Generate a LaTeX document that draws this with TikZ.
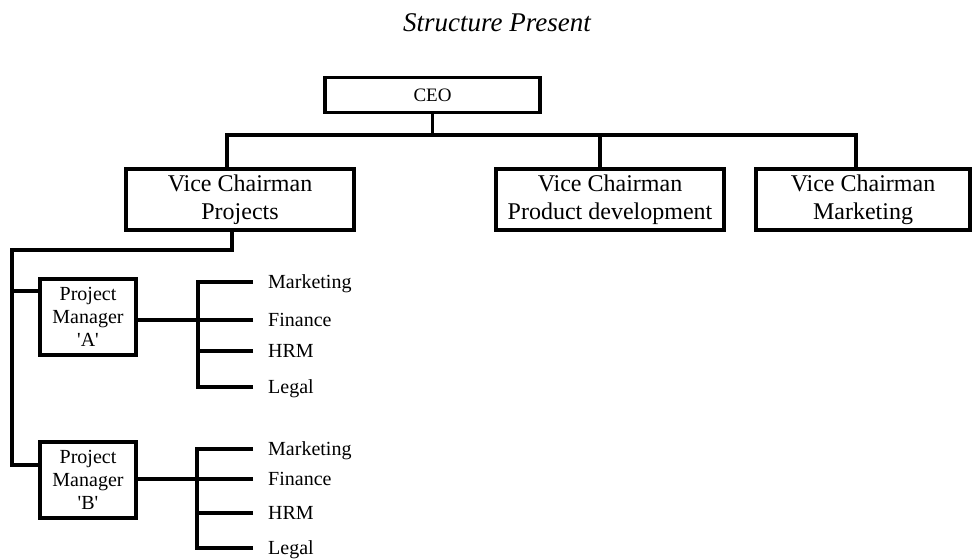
\documentclass[tikz,border=0pt]{standalone}
\usepackage{fontspec}
\setmainfont{Liberation Serif}
\begin{document}
\begin{tikzpicture}[x=1pt,y=-1pt,
  conn/.style={line width=3.8pt},
  vcbox/.style={draw,line width=3.8pt,minimum width=228pt,minimum height=61pt,
    inner sep=0pt,align=center,font=\fontsize{24}{28}\selectfont},
  pmbox/.style={draw,line width=3.8pt,minimum width=96pt,minimum height=76pt,
    inner sep=0pt,align=center,font=\fontsize{20}{23}\selectfont},
  dept/.style={anchor=west,inner xsep=15pt,inner ysep=0pt,
    text height=13.2pt,text depth=0pt,font=\fontsize{20}{23}\selectfont}]
\useasboundingbox (0,0) rectangle (973,559);

% title
\node[anchor=base,font=\fontsize{27}{32}\selectfont\itshape] (title) at (497,32) {Structure Present};

% top level
\node[draw,line width=3.8pt,minimum width=215pt,minimum height=35pt,inner sep=0pt,
  font=\fontsize{19}{22}\selectfont] (ceo) at (432.5,95) {CEO};

\node[vcbox] (vcp)  at (240,199.5) {Vice Chairman\\Projects};
\node[vcbox] (vcpd) at (610,199.5) {Vice Chairman\\Product development};
\node[vcbox,minimum width=214pt] (vcm) at (863,199.5) {Vice Chairman\\Marketing};

\coordinate (bus) at (432.5,135);
\draw[conn] (ceo.south) -- (bus);
\draw[conn] ([xshift=-13pt]vcp.north) |- (bus);
\draw[conn] ([xshift=-10pt]vcpd.north) |- (bus);
\draw[conn] ([xshift=-7pt]vcm.north) |- (bus);

% project managers
\node[pmbox] (pma) at (88,317) {Project\\Manager\\\textquotesingle A\textquotesingle};
\node[pmbox] (pmb) at (88,480) {Project\\Manager\\\textquotesingle B\textquotesingle};

\coordinate (corner) at (12,250);
\coordinate (pa) at (12,291);
\coordinate (pb) at (12,465);
\draw[conn] ([xshift=-8pt]vcp.south) |- (corner) -- (pb) -- (pb -| pmb.west);
\draw[conn] (pa) -- (pa -| pma.west);

% departments under manager A
\node[dept] (ma) at (253,282) {Marketing};
\node[dept] (fa) at (253,320) {Finance};
\node[dept] (ha) at (253,351) {HRM};
\node[dept] (la) at (253,387) {Legal};
\coordinate (ja) at (198,320);
\draw[conn] (ja -| pma.east) -- (ja);
\draw[conn] (ma.west) -| (ja);
\draw[conn] (fa.west) -| (ja);
\draw[conn] (ha.west) -| (ja);
\draw[conn] (la.west) -| (ja);

% departments under manager B
\node[dept] (mb) at (253,449) {Marketing};
\node[dept] (fb) at (253,479) {Finance};
\node[dept] (hb) at (253,513) {HRM};
\node[dept] (lb) at (253,548) {Legal};
\coordinate (jb) at (197,479);
\draw[conn] (jb -| pmb.east) -- (jb);
\draw[conn] (mb.west) -| (jb);
\draw[conn] (fb.west) -| (jb);
\draw[conn] (hb.west) -| (jb);
\draw[conn] (lb.west) -| (jb);
\end{tikzpicture}
\end{document}
